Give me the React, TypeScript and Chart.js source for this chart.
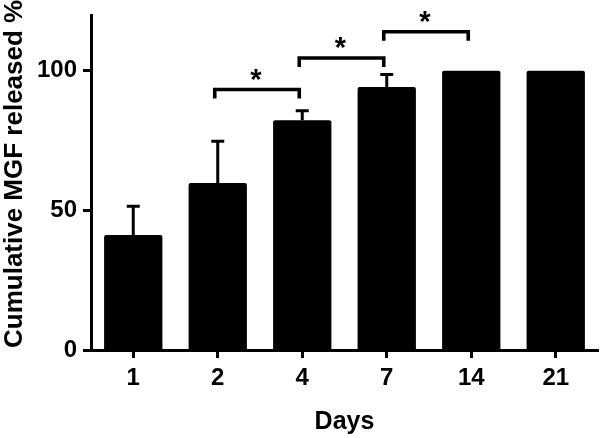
import React, { useEffect, useRef } from "react";
import { Chart, registerables } from "chart.js";

Chart.register(...registerables);

const days = ["1", "2", "4", "7", "14", "21"];
const released = [41.2, 59.8, 82.3, 94.2, 100, 100];
const sem = [10.3, 15, 3.4, 4.5, 0, 0];
const bracketFrom = [1, 2, 3];
const bracketTo = [2, 3, 4];
const bracketLevel = [93.3, 104.6, 114];
const bracketMark = ["*", "*", "*"];
const yTicks = [0, 50, 100];
const yMax = 120;
const yTitle = "Cumulative MGF released %";
const xTitle = "Days";

const FAMILY = "'Liberation Sans', Arial, Helvetica, sans-serif";

const annotationsPlugin = {
  id: "annotations",
  afterDatasetsDraw(chart: any) {
    const ctx = chart.ctx;
    const xs = chart.scales.x;
    const ys = chart.scales.y;
    const meta = chart.getDatasetMeta(0);
    ctx.save();
    ctx.strokeStyle = "#000";
    ctx.fillStyle = "#000";
    // error bars
    ctx.lineWidth = 3;
    ctx.lineCap = "butt";
    released.forEach((v, i) => {
      const e = sem[i];
      if (!e) return;
      const bar = meta.data[i];
      const x = bar.x;
      const yTop = ys.getPixelForValue(v + e);
      ctx.beginPath();
      ctx.moveTo(x, bar.y);
      ctx.lineTo(x, yTop);
      ctx.moveTo(x - 6.5, yTop);
      ctx.lineTo(x + 6.5, yTop);
      ctx.stroke();
    });
    // significance brackets
    ctx.lineWidth = 3.6;
    ctx.lineJoin = "miter";
    bracketFrom.forEach((f, i) => {
      const x1 = xs.getPixelForValue(f) - 3;
      const x2 = xs.getPixelForValue(bracketTo[i]) - 3;
      const y = ys.getPixelForValue(bracketLevel[i]);
      ctx.beginPath();
      ctx.moveTo(x1, y + 9);
      ctx.lineTo(x1, y);
      ctx.lineTo(x2, y);
      ctx.lineTo(x2, y + 9);
      ctx.stroke();
      ctx.font = `bold 29px ${FAMILY}`;
      ctx.textAlign = "center";
      ctx.textBaseline = "alphabetic";
      ctx.fillText(bracketMark[i], (x1 + x2) / 2 - 1, y - 1);
    });
    ctx.restore();
  },
  afterDraw(chart: any) {
    const ctx = chart.ctx;
    const ca = chart.chartArea;
    ctx.save();
    ctx.fillStyle = "#000";
    ctx.font = `bold 26px ${FAMILY}`;
    ctx.translate(22, ca.bottom - 2);
    ctx.rotate(-Math.PI / 2);
    ctx.textAlign = "left";
    ctx.textBaseline = "alphabetic";
    ctx.fillText(yTitle, 0, 0);
    ctx.restore();
  },
};

export default function App() {
  const ref = useRef<HTMLCanvasElement>(null);
  useEffect(() => {
    if (!ref.current) return;
    Chart.defaults.font.family = FAMILY;
    const chart = new Chart(ref.current, {
      type: "bar",
      data: {
        labels: days,
        datasets: [
          {
            data: released,
            backgroundColor: "#000",
            borderWidth: 0,
            borderRadius: 2,
            borderSkipped: "bottom",
            barPercentage: 0.69,
            categoryPercentage: 1,
          },
        ],
      },
      options: {
        animation: false,
        responsive: false,
        maintainAspectRatio: false,
        layout: { padding: { top: 15, right: 2, left: 0, bottom: 0 } },
        plugins: { legend: { display: false }, tooltip: { enabled: false } },
        scales: {
          x: {
            type: "category",
            offset: true,
            grid: {
              display: true,
              drawOnChartArea: false,
              drawTicks: true,
              tickLength: 8,
              tickWidth: 3,
              tickColor: "#000",
              offset: false,
            },
            border: { display: true, color: "#000", width: 3 },
            ticks: {
              color: "#000",
              font: { family: FAMILY, size: 24, weight: "bold" },
              padding: 6,
            },
            title: {
              display: true,
              text: xTitle,
              color: "#000",
              font: { family: FAMILY, size: 25, weight: "bold", lineHeight: 1 },
              padding: { top: 0, bottom: 3 },
            },
            afterFit: (s: any) => {
              s.height = 88;
              s.paddingLeft = 0;
              s.paddingRight = 0;
            },
          },
          y: {
            min: 0,
            max: yMax,
            afterBuildTicks: (s: any) => {
              s.ticks = yTicks.map((v) => ({ value: v }));
            },
            grid: {
              display: true,
              drawOnChartArea: false,
              drawTicks: true,
              tickLength: 8,
              tickWidth: 3,
              tickColor: "#000",
            },
            border: { display: true, color: "#000", width: 3 },
            ticks: {
              color: "#000",
              font: { family: FAMILY, size: 24, weight: "bold" },
              padding: 6,
            },
            afterFit: (s: any) => {
              s.width = 91;
              s.paddingTop = 0;
              s.paddingBottom = 0;
            },
          },
        },
      } as any,
      plugins: [annotationsPlugin],
    });
    return () => chart.destroy();
  }, []);
  return (
    <div style={{ position: "absolute", left: 0, top: 0, width: 600, height: 438, background: "#fff" }}>
      <canvas ref={ref} width={600} height={438} />
    </div>
  );
}
